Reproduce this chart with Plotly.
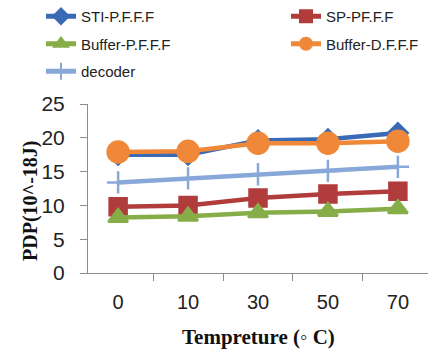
import plotly.graph_objects as go

categories = ["0", "10", "30", "50", "70"]
sti = [17.5, 17.5, 19.6, 19.8, 20.7]
sp = [9.8, 10.0, 11.1, 11.7, 12.1]
buf_p = [8.2, 8.4, 8.9, 9.1, 9.5]
buf_d = [17.9, 18.0, 19.2, 19.2, 19.5]
decoder = [13.4, 14.0, 14.6, 15.1, 15.7]

series = [
    ("STI-P.F.F.F", sti, "#3A6AB5", "diamond", 15, "legend"),
    ("SP-PF.F.F", sp, "#B03C3C", "square", 17, "legend2"),
    ("Buffer-P.F.F.F", buf_p, "#86AD48", "triangle-up", 17, "legend"),
    ("Buffer-D.F.F.F", buf_d, "#F0883A", "circle", 21, "legend2"),
    ("decoder", decoder, "#88A8DA", "cross-thin", 16, "legend"),
]

fig = go.Figure()
for name, vals, color, sym, size, leg in series:
    fig.add_trace(go.Scatter(
        x=categories, y=vals, name=name, mode="lines+markers", legend=leg,
        legendgroup=name,
        line=dict(color=color, width=4.5),
        marker=dict(symbol=sym, size=size, color=color,
                    line=dict(color=color, width=2.5)),
    ))

axis_col = "#8C8C8C"
leg_font = dict(family="Liberation Sans, Arial, sans-serif", size=15, color="#222")
common_leg = dict(xref="container", yref="container", xanchor="left", yanchor="top",
                  y=1.007, font=leg_font, bgcolor="rgba(0,0,0,0)", itemsizing="constant",
                  tracegroupgap=5, orientation="v")
title_font = dict(family="Liberation Serif, Times New Roman, serif", size=20, color="#111")
fig.update_layout(
    width=438, height=352,
    margin=dict(l=88, r=10, t=104, b=79, autoexpand=False),
    plot_bgcolor="white", paper_bgcolor="white",
    font=dict(family="Liberation Sans, Arial, sans-serif", size=18, color="#222"),
    legend=dict(x=41 / 438, **common_leg),
    legend2=dict(x=286 / 438, **common_leg),
    xaxis=dict(type="category", showgrid=False, showline=True, linecolor=axis_col,
               linewidth=1, ticks="outside", tickson="boundaries", tickcolor=axis_col,
               ticklen=7, tickfont=dict(size=20), ticklabelstandoff=11),
    yaxis=dict(range=[0, 25], dtick=5, showgrid=False, showline=True, linecolor=axis_col,
               linewidth=1, ticks="outside", tickcolor=axis_col, ticklen=7,
               tickfont=dict(size=21), zeroline=False, ticklabelstandoff=11),
    annotations=[
        dict(text="<b>PDP(10^-18J)</b>", textangle=-90, xref="paper", yref="paper",
             x=(30 - 88) / 340, y=(273 - 201) / 169, xanchor="center", yanchor="middle",
             showarrow=False, font=title_font),
        dict(text="<b>Tempreture (◦ C)</b>", xref="paper", yref="paper",
             x=0.5, y=(273 - 337) / 169, xanchor="center", yanchor="middle",
             showarrow=False, font=dict(title_font, size=21)),
    ],
)
fig.write_html("out.html")
